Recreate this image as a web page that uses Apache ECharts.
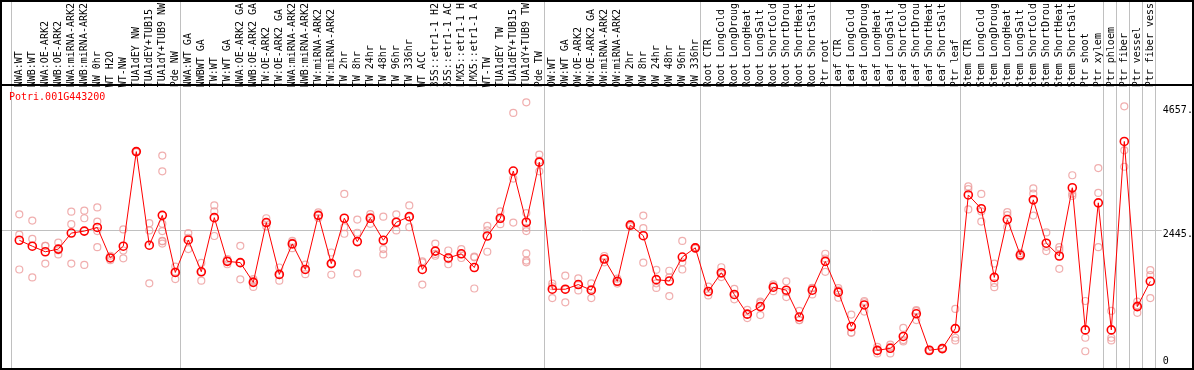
<!DOCTYPE html>
<html>
<head>
<meta charset="utf-8">
<script src="https://cdn.jsdelivr.net/npm/echarts@6/dist/echarts.min.js"></script>
<style>
html,body{margin:0;padding:0;background:#fff;}
#chart{width:1194px;height:370px;}
</style>
</head>
<body>
<div id="chart"></div>
<script>
const geneTitle = 'Potri.001G443200';

const categories = [
  'NWA:WT','NWB:WT','NWA:OE-ARK2','NWB:OE-ARK2','NWA:miRNA-ARK2','NWB:miRNA-ARK2','NW 0hr','WT H2O','WT-NW','TUA1dEY NW','TUA1dEY+TUB15','TUA1dY+TUB9 NW','Pde NW',
  'NWA:WT GA','NWBWT GA','TW:WT','TW:WT GA','NWA:OE-ARK2 GA','NWB:OE-ARK2 GA','TW:OE-ARK2','TW:OE-ARK2 GA','NWA:miRNA-ARK2','NWB:miRNA-ARK2','TW:miRNA-ARK2','TW:miRNA-ARK2',
  'TW 2hr','TW 8hr','TW 24hr','TW 48hr','TW 96hr','TW 336hr','WT ACC','35S::etr1-1 H2','35S::etr1-1 AC','LMX5::etr1-1 H','LMX5::etr1-1 A','WT-TW','TUA1dEY TW','TUA1dEY+TUB15','TUA1dY+TUB9 TW','Pde TW',
  'OW:WT','OW:WT GA','OW:OE-ARK2','OW:OE-ARK2 GA','OW:miRNA-ARK2','OW:miRNA-ARK2','OW 2hr','OW 8hr','OW 24hr','OW 48hr','OW 96hr','OW 336hr',
  'Root CTR','Root LongCold','Root LongDroug','Root LongHeat','Root LongSalt','Root ShortCold','Root ShortDrou','Root ShortHeat','Root ShortSalt','Ptr root',
  'Leaf CTR','Leaf LongCold','Leaf LongDroug','Leaf LongHeat','Leaf LongSalt','Leaf ShortCold','Leaf ShortDrou','Leaf ShortHeat','Leaf ShortSalt','Ptr leaf',
  'Stem CTR','Stem LongCold','Stem LongDroug','Stem LongHeat','Stem LongSalt','Stem ShortCold','Stem ShortDrou','Stem ShortHeat','Stem ShortSalt','Ptr shoot',
  'Ptr xylem','Ptr phloem','Ptr fiber','Ptr vessel','Ptr fiber vess'
];

const meanValues = [
  2270,2164,2065,2112,2398,2433,2498,1954,2164,3850,2182,2714,1696,
  2275,1708,2673,1894,1871,1520,2586,1661,2205,1749,2714,1854,
  2662,2246,2662,2270,2591,2691,1749,2077,1954,2029,1784,2346,2662,3504,2591,3662,
  1397,1397,1480,1380,1936,1538,2539,2351,1568,1543,1971,2135,
  1357,1691,1304,953,1087,1433,1380,901,1380,1894,
  1345,731,1117,307,344,555,959,309,339,695,
  3077,2832,1608,2639,2006,2990,2217,1989,3206,672,
  2937,672,4031,1087,1538
];

const replicates = [
  [2732,2369,1749],[2621,2293,1608],[2170,2171,1854],[2228,2017,2091],[2779,2556,1854],[2797,2662,1831],
  [2855,2603,2433,2147],[1994,1954,1915],[2463,2087,1947],[3860,3850,3840],[2574,2446,1503],
  [3780,3499,2562,2433,2258,2250,2211],[1801,1709,1578],
  [2398,2315,2112],[1866,1708,1550],[2890,2784,2346],[1936,1905,1842],[2170,1870,1573],[1578,1545,1438],
  [2662,2580,2516],[1784,1650,1550],[2258,2228,2129],[1836,1745,1666],[2767,2708,2667],[2052,1855,1655],
  [3095,2503,2386],[2639,2404,1678],[2737,2687,2562],[2691,2112,2017],[2732,2595,2446],[2890,2680,2503],
  [1894,1873,1480],[2211,2026,1994],[2087,1933,1842],[2112,2021,1954],[1977,1965,1410],[2527,2446,2065],
  [2784,2646,2556],[4540,3369,2586],[4728,2755,2491,2433,2035,1907,1877],[3797,3690,3499],
  [1498,1450,1239],[1638,1390,1164],[1591,1474,1375],[1503,1398,1239],[1989,1942,1877],[1585,1531,1498],
  [2560,2539,2518],[2709,2486,1871],[1743,1503,1421],[1726,1608,1275],[2258,1877,1749],[2150,2135,2120],
  [1445,1340,1287],[1789,1671,1613],[1403,1292,1217],[1029,947,883],[1175,1150,936],[1485,1452,1362],
  [1538,1345,1257],[1011,848,844],[1421,1415,1304],[2029,1945,1708],
  [1415,1375,1245],[946,627,620],[1187,1165,999],[369,299,253],[409,370,253],[708,490,467],
  [1024,1005,848],[320,300,290],[350,339,328],[1046,532,485],
  [3229,3183,2820],[3095,2784,2603],[1854,1508,1433],[2772,2719,2503],[2040,2006,1975],[3194,3100,2709],
  [2410,2152,2077],[2147,2094,1761],[3429,3100,3060],[1187,532,291],
  [3557,3113,2147],[1011,532,485],[4657,3873,3580],[1175,1110,976],[1736,1649,1239]
];

// group separators: a vertical rule is drawn after these category indices
const separatorsAfter = [-1, 12, 40, 52, 62, 72, 83, 84, 85, 86, 87];
const yTickValues = [4657, 2445, 0];
const yTickLabels = ['4657.', '2445.', '0'];
const gridLineValues = [2445];

const MONO = "'DejaVu Sans Mono', monospace";
const N = categories.length;

const scatterData = [];
replicates.forEach((arr, i) => arr.forEach(v => scatterData.push([i, v])));

const chart = echarts.init(document.getElementById('chart'), null, {renderer: 'canvas'});

const option = {
  animation: false,
  backgroundColor: '#fff',
  title: {
    text: geneTitle,
    left: 9, top: 92, padding: 0,
    textStyle: {color: '#ff0000', fontSize: 10, fontFamily: MONO, fontWeight: 'normal'}
  },
  grid: {left: 12.8, top: 85, width: 13 * N, height: 282.6},
  xAxis: [
    {
      type: 'category', position: 'top', data: categories, boundaryGap: true,
      axisLine: {show: false}, axisTick: {show: false}, splitLine: {show: false},
      axisLabel: {interval: 0, rotate: 90, margin: 2, fontSize: 10, fontFamily: MONO, color: '#000'}
    },
    {type: 'value', min: -0.5, max: N - 0.5, show: false}
  ],
  yAxis: {type: 'value', min: 0, max: 4961, show: false},
  graphic: [
    {type: 'rect', shape: {x: 1, y: 1, width: 1192, height: 368}, style: {fill: null, stroke: '#000', lineWidth: 2}, z: 100},
    {type: 'line', shape: {x1: 0, y1: 85, x2: 1194, y2: 85}, style: {stroke: '#000', lineWidth: 2}, z: 100}
  ],
  series: [
    {
      type: 'custom', name: 'separators', xAxisIndex: 1, clip: false, silent: true, z: 1,
      data: separatorsAfter.map(k => [k]),
      renderItem: function (params, api) {
        const x = Math.round(api.coord([api.value(0) + 0.385, 0])[0]) + 0.5;
        return {type: 'line', shape: {x1: x, y1: 0, x2: x, y2: 370}, style: {stroke: '#c0c0c0', lineWidth: 1}};
      }
    },
    {
      type: 'custom', name: 'hgrid', xAxisIndex: 1, clip: false, silent: true, z: 1,
      data: gridLineValues.map(v => [0, v]),
      renderItem: function (params, api) {
        const y = Math.round(api.coord([0, api.value(1)])[1]) + 0.5;
        const xr = api.coord([N - 0.5, 0])[0];
        return {type: 'line', shape: {x1: 1, y1: y, x2: xr + 5, y2: y}, style: {stroke: '#c0c0c0', lineWidth: 1}};
      }
    },
    {
      type: 'custom', name: 'ylabels', xAxisIndex: 1, clip: false, silent: true, z: 5,
      data: yTickValues.map((v, i) => [0, v, i]),
      renderItem: function (params, api) {
        const py = api.coord([0, api.value(1)])[1];
        const xr = api.coord([N - 0.5, 0])[0];
        return {
          type: 'text',
          style: {
            x: xr + 6, y: Math.min(py - 1, 356),
            text: yTickLabels[api.value(2)],
            fill: '#000', font: '10px ' + MONO,
            verticalAlign: 'top', align: 'left'
          }
        };
      }
    },
    {
      type: 'scatter', name: 'replicates', data: scatterData, z: 3,
      symbol: 'circle', symbolSize: 7,
      itemStyle: {color: 'transparent', borderColor: '#ec9a9a', borderWidth: 1.2}
    },
    {
      type: 'line', name: 'mean', data: meanValues, z: 4,
      symbol: 'circle', symbolSize: 8, showAllSymbol: true,
      lineStyle: {color: '#ff0000', width: 1},
      itemStyle: {color: 'transparent', borderColor: '#ff0000', borderWidth: 1.6}
    }
  ]
};
chart.setOption(option);
</script>
</body>
</html>
